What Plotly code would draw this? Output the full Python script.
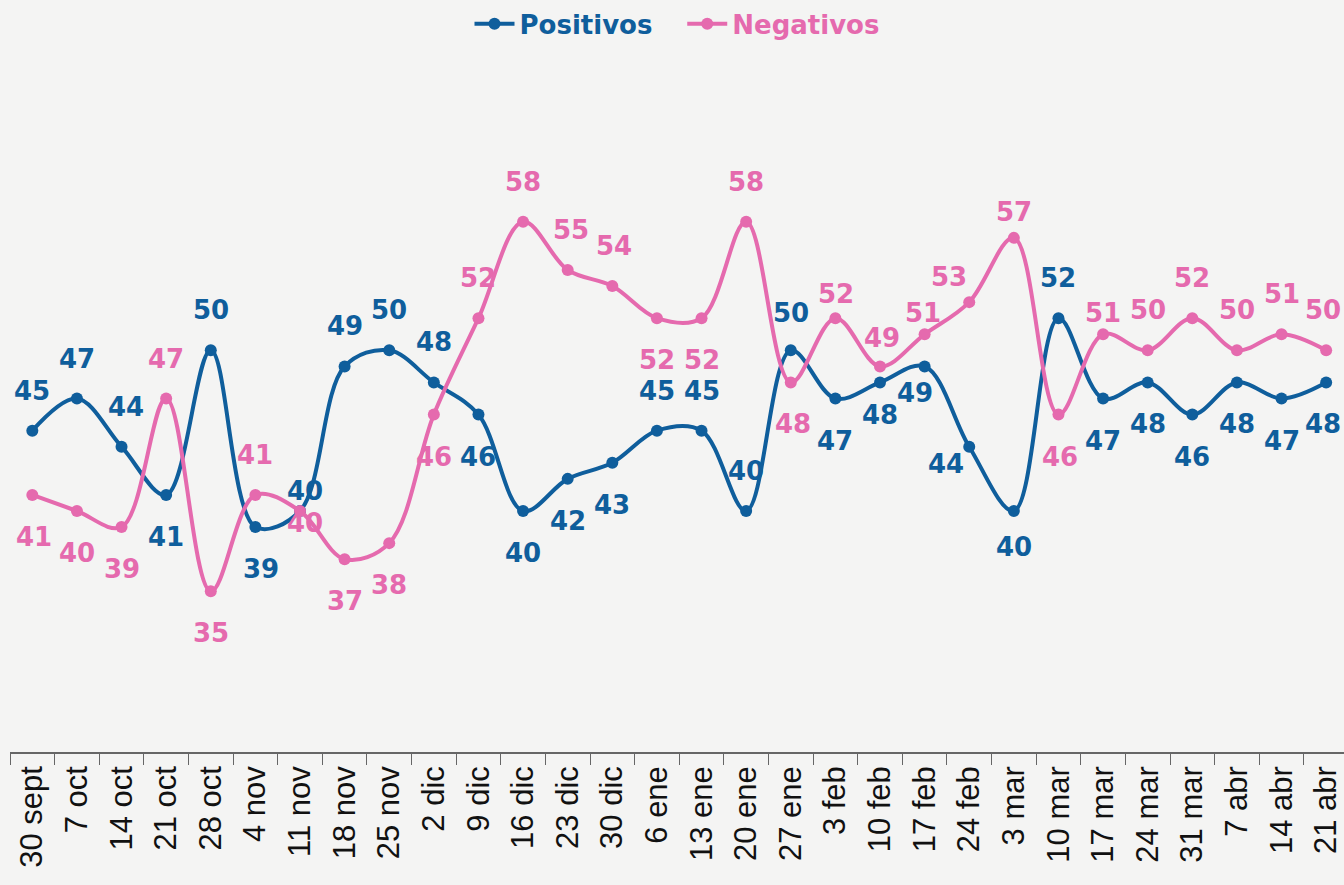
import plotly.graph_objects as go

categories = ["30 sept", "7 oct", "14 oct", "21 oct", "28 oct", "4 nov", "11 nov", "18 nov",
              "25 nov", "2 dic", "9 dic", "16 dic", "23 dic", "30 dic", "6 ene", "13 ene",
              "20 ene", "27 ene", "3 feb", "10 feb", "17 feb", "24 feb", "3 mar", "10 mar",
              "17 mar", "24 mar", "31 mar", "7 abr", "14 abr", "21 abr"]
positivos = [45, 47, 44, 41, 50, 39, 40, 49, 50, 48, 46, 40, 42, 43, 45, 45, 40, 50, 47, 48,
             49, 44, 40, 52, 47, 48, 46, 48, 47, 48]
negativos = [41, 40, 39, 47, 35, 41, 40, 37, 38, 46, 52, 58, 55, 54, 52, 52, 58, 48, 52, 49,
             51, 53, 57, 46, 51, 50, 52, 50, 51, 50]

# label placement: 'a' = above point, 'b' = below point
pos_place = list("aaa" + "b" + "a" + "b" + "aaaa" + "bbbb" + "aaaa" + "bbbbb" + "a" + "bbbbbb")
neg_place = list("bbb" + "a" + "b" + "a" + "bbbb" + "aaaa" + "bb" + "a" + "b" + "aaaaa" + "b" + "aaaaaa")
# fine adjustments (index: (xshift, yshift))
pos_adj = {2: (4, 0), 5: (6, 0), 6: (5, -20), 17: (0, -3), 19: (0, 9), 20: (-10, 15),
           21: (-23, 25), 22: (0, 6), 29: (-3, 0)}
neg_adj = {0: (2, 0), 6: (5, 30), 12: (3, 0), 13: (2, 0), 17: (2, 0), 18: (1, -16),
           19: (2, -12), 20: (-2, -19), 21: (-20, -15), 22: (0, -14), 23: (2, 0),
           24: (0, -19), 29: (-3, 0)}

BLUE = "#0f5e9c"
PINK = "#e56aae"
BG = "#f4f4f3"
LABEL_FONT = "DejaVu Sans"

fig = go.Figure()
for name, vals, color, pad in [("Positivos", positivos, BLUE, "&nbsp;&nbsp;&nbsp;"),
                               ("Negativos", negativos, PINK, "")]:
    fig.add_trace(go.Scatter(
        x=categories, y=vals, mode="lines+markers",
        name=f"<b><span style='color:{color}'>{name}</span></b>{pad}",
        line=dict(color=color, width=4, shape="spline", smoothing=1),
        marker=dict(color=color, size=12),
        hoverinfo="x+y",
    ))

annotations = []
for vals, places, adj, color in [(positivos, pos_place, pos_adj, BLUE),
                                 (negativos, neg_place, neg_adj, PINK)]:
    for i, (c, v, p) in enumerate(zip(categories, vals, places)):
        dx, dy = adj.get(i, (0, 0))
        ys = 40 if p == "a" else -42
        annotations.append(dict(
            x=c, y=v, text=f"<b>{v}</b>", showarrow=False,
            xshift=dx, yshift=ys + dy,
            font=dict(family=LABEL_FONT, size=26, color=color),
        ))

fig.update_layout(
    width=1344, height=885,
    margin=dict(l=10, r=0, t=27, b=133),
    paper_bgcolor=BG,
    plot_bgcolor="rgba(0,0,0,0)",
    showlegend=True,
    legend=dict(orientation="h", x=0.5, xanchor="center", y=1.007, yanchor="middle",
                font=dict(family=LABEL_FONT, size=26), bgcolor="rgba(0,0,0,0)",
                itemwidth=40, tracegroupgap=0),
    annotations=annotations,
    xaxis=dict(
        type="category", showgrid=False, zeroline=False,
        showline=True, linecolor="#666666", linewidth=1.5,
        ticks="outside", tickson="boundaries", ticklen=11, tickcolor="#666666",
        tickangle=-90, tickfont=dict(family="Liberation Sans", size=31, color="#111111"),
        range=[-0.5, 29.4],
    ),
    yaxis=dict(range=[25, 70], showgrid=False, zeroline=False, showticklabels=False,
               showline=False, ticks=""),
)

fig.write_html("out.html", config={"displayModeBar": False},
               post_script=f"document.body.style.margin='0';document.body.style.background='{BG}';")
